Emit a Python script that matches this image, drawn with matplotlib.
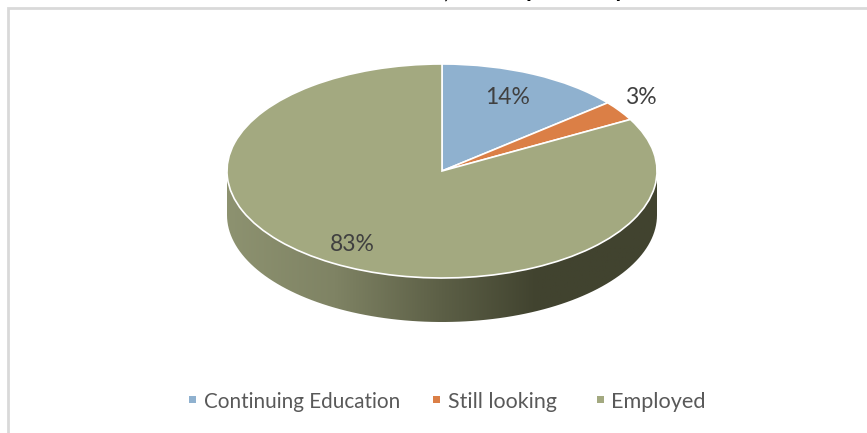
import matplotlib
matplotlib.use('Agg')
import matplotlib.pyplot as plt
import numpy as np
from matplotlib.patches import PathPatch, Rectangle
from matplotlib.path import Path
from matplotlib.colors import LinearSegmentedColormap

categories = ['Continuing Education', 'Still looking', 'Employed']
shares = [14, 3, 83]
labels = ['14%', '3%', '83%']
colors = ['#8FB1CF', '#DB7F46', '#A3A980']

W, H = 867, 433
cx, cy = 442, 171
rx, ry = 215, 107
depth = 44

plt.rcParams['font.family'] = ['Lato', 'DejaVu Sans']
fig = plt.figure(figsize=(W / 100, H / 100), dpi=100)

# background axes in pixel coords
bg = fig.add_axes([0, 0, 1, 1])
bg.set(xlim=(0, W), ylim=(H, 0))
bg.axis('off')

# chart frame, runs off the right and bottom of the picture
bg.add_patch(Rectangle((7.5, 7.5), W + 20, H + 20, fc='white', ec='#D9D9D9', lw=2, zorder=0))

# title is cut off by the top of the picture, only the descenders are left
for x, s in [(447, ','), (532, 'p'), (620, 'y')]:
    bg.text(x, -3, s, fontsize=17, fontweight='bold', color='black', ha='center', va='baseline')

# side of the disc with the dark gradient
t = np.linspace(np.pi, 0, 100)
ex = cx + rx * np.cos(t)
ey = cy + ry * np.sin(t)
verts = list(zip(ex, ey)) + list(zip(ex[::-1], ey[::-1] + depth))
side = PathPatch(Path(verts + [verts[0]], closed=True), fc='none', ec='none', zorder=1)
bg.add_patch(side)
cmap = LinearSegmentedColormap.from_list('side', [
    (0, '#8D9270'), (0.25, '#7F8364'), (0.5, '#5C5F46'), (0.72, '#41432F'), (1, '#41432F')])
im = bg.imshow(np.linspace(0, 1, 256).reshape(1, -1), cmap=cmap, aspect='auto', zorder=2,
               extent=(cx - rx, cx + rx, cy + ry + depth, cy))
im.set_clip_path(side)
bg.set(xlim=(0, W), ylim=(H, 0))

# top of the disc, squashed pie
ax = fig.add_axes([(cx - rx) / W, 1 - (cy + ry) / H, 2 * rx / W, 2 * ry / H])
ax.pie(shares, colors=colors, startangle=90, counterclock=False, radius=1,
       wedgeprops={'edgecolor': 'white', 'linewidth': 1.2})
ax.set_aspect('auto')
ax.set(xlim=(-1, 1), ylim=(-1, 1))
for wedge in ax.patches:
    wedge.set_clip_on(False)

# percent labels
label_pos = [(508, 98), (641, 98), (352, 244)]
for (x, y), s in zip(label_pos, labels):
    fig.text(x / W, 1 - y / H, s, fontsize=16.5, color='#404040', ha='center', va='center', zorder=5)

# legend
legend_text = [204, 448, 611]
legend_size = [14.9, 15.4, 15.6]
legend_box = [189, 433, 597]
for bx, tx, fs, c, s in zip(legend_box, legend_text, legend_size, colors, categories):
    bg.add_patch(Rectangle((bx, 396), 7, 7, fc=c, ec='none'))
    bg.text(tx, 402, s, fontsize=fs, color='#595959', ha='left', va='center')

fig.savefig('out.png', dpi=100)
